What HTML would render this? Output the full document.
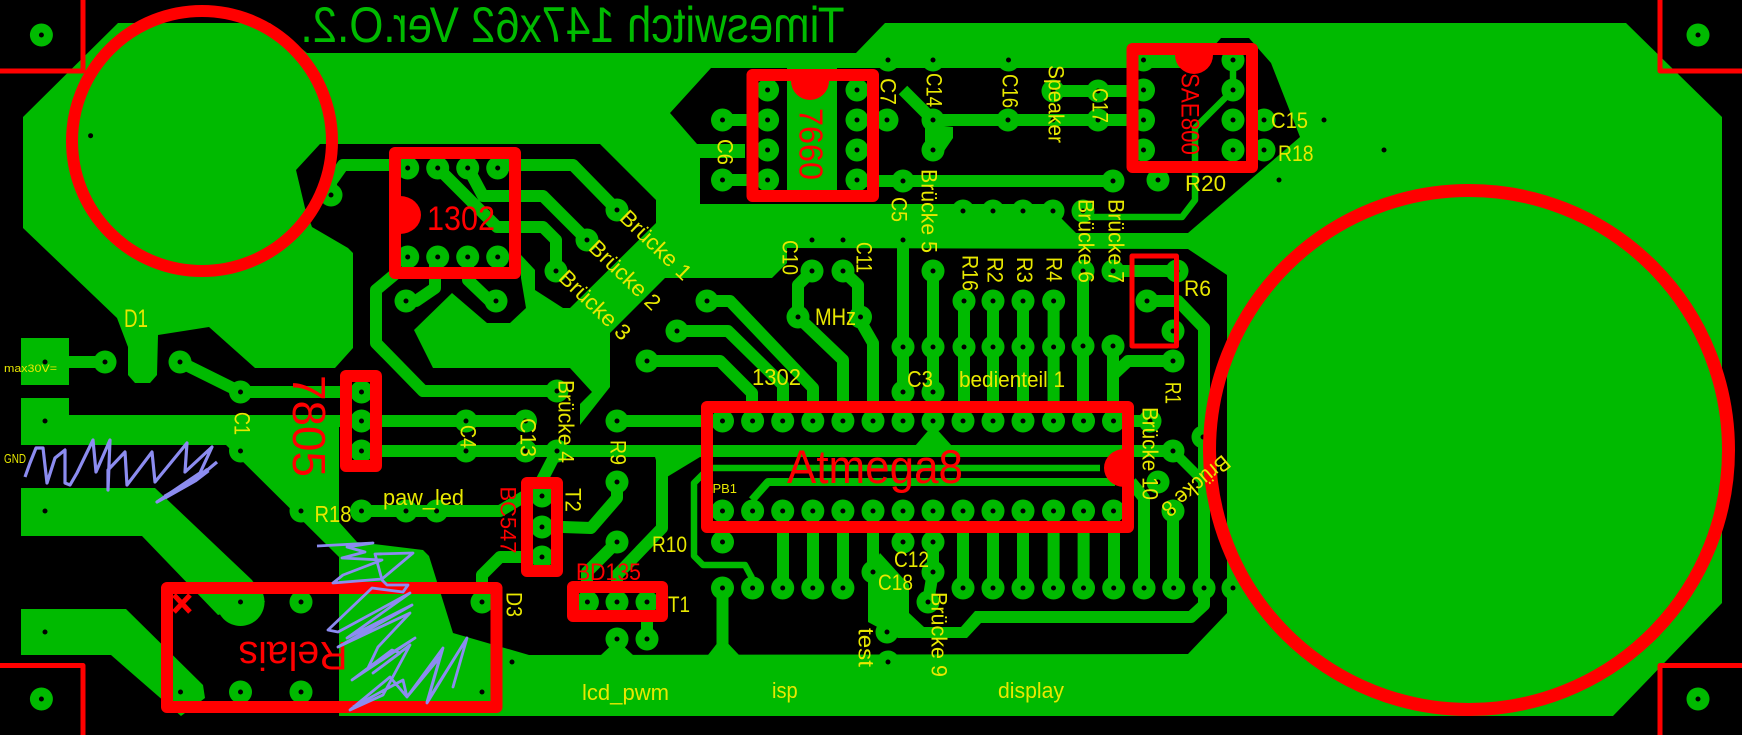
<!DOCTYPE html>
<html><head><meta charset="utf-8"><title>PCB</title>
<style>
html,body{margin:0;padding:0;background:#000;width:1742px;height:735px;overflow:hidden}
svg{display:block}
text{font-family:"Liberation Sans",sans-serif}
.y text{fill:#e8e800}
.r text{fill:#f00}
.c text{text-anchor:middle;dominant-baseline:central}
</style></head><body>
<svg xmlns="http://www.w3.org/2000/svg" width="1742" height="735" viewBox="0 0 1742 735">
<defs>
<path id="p" d="M41.4 35h.01M1698 35h.01M41.4 699h.01M1698 699h.01M105 362h.01M180 362h.01M240.5 392h.01M240.5 451h.01M361.5 392h.01M361.5 421h.01M361.5 451h.01M466 421h.01M466 451h.01M525.5 421h.01M525.5 451h.01M557 391h.01M557 451h.01M301 511h.01M361.5 511h.01M406 511h.01M436.6 511h.01M542 496h.01M542 527h.01M542 557h.01M617 421h.01M617 482h.01M617 542h.01M587.4 602h.01M617 602h.01M647 602h.01M617 639h.01M647 639h.01M722.5 542h.01M722.5 588h.01M301 602h.01M482 602h.01M240.5 692h.01M301 692h.01M407.700 168h.01M437.700 168h.01M467.700 168h.01M497.700 168h.01M407.700 257h.01M437.700 257h.01M467.700 257h.01M497.700 257h.01M331 195h.01M406 301h.01M496 301h.01M617 210h.01M587 240h.01M556 271h.01M767.6 90h.01M767.6 120h.01M767.6 150h.01M767.6 180h.01M857 90h.01M857 120h.01M857 150h.01M857 180h.01M722.5 120h.01M722.5 180h.01M887 120h.01M903 181h.01M1113 181h.01M1158 180h.01M933 120h.01M933 150h.01M1008 120h.01M1053 91h.01M1098 91h.01M1098 120h.01M1143.5 60h.01M1143.5 90h.01M1143.5 120h.01M1143.5 150h.01M1233 60h.01M1233 90h.01M1233 120h.01M1233 150h.01M1264 120h.01M1264 150h.01M888 60h.01M933 60h.01M1008.5 60h.01M963 211h.01M993 211h.01M1023 211h.01M1053 211h.01M1083 211h.01M812 271h.01M843 271h.01M933 271h.01M1083 271h.01M1113 271h.01M798 317h.01M860.5 317h.01M707 301h.01M677 331h.01M647 361h.01M964 301h.01M993 301h.01M1023 301h.01M1053.6 301h.01M903 347h.01M933 347h.01M964 347h.01M993 347h.01M1023 347h.01M1053.6 347h.01M1083 346h.01M1113 346h.01M903 392h.01M933 392h.01M1147 301h.01M1177 271h.01M1173 331h.01M1173 361h.01M1150 421h.01M1203 437h.01M1173 451h.01M1158 482h.01M1173 511h.01M1173.7 588h.01M1204 588h.01M1233 588h.01M873 572h.01M903 542h.01M933 542h.01M933 572h.01M928 602h.01M887 632h.01M888 662h.01M722.5 421h.01M752.6 421h.01M782.7 421h.01M812.8 421h.01M842.9 421h.01M873 421h.01M903 421h.01M933 421h.01M963 421h.01M993 421h.01M1023 421h.01M1053.5 421h.01M1083.5 421h.01M1113.5 421h.01M722.5 511h.01M752.6 511h.01M782.7 511h.01M812.8 511h.01M842.9 511h.01M873 511h.01M903 511h.01M933 511h.01M963 511h.01M993 511h.01M1023 511h.01M1053.5 511h.01M1083.5 511h.01M1113.5 511h.01M752.6 588h.01M782.7 588h.01M812.8 588h.01M842.9 588h.01M963 588h.01M993 588h.01M1023 588h.01M1053.5 588h.01M1083.5 588h.01M1113.7 588h.01M1144 588h.01"/>
</defs>
<rect width="1742" height="735" fill="#000"/>
<g fill="#00ba00">
<polygon points="118,23 270,23 307,53 856,53 885,23 1626,23 1722,117 1722,603 1613,716 339,716 339,557 226,445 21,445 21,398 69,398 69,415 339,415 339,522 357,542 423,550 429,556 453,633 529,655 1188,654 1227,613 1227,275 1188,249 787,248 787,263 772,278 665,278 610,333 610,387 580,425 580,404 592,392 570,368 433,368 414,330 452,293 487,323 510,323 526,308 521,278 521,255 535,270 535,290 563,308 570,308 656,223 656,200 600,144 320,144 296,170 305,208 312,227 348,248 353,253 353,348 335,368 255,368 209,327 158,335 157,375 150,383 135,383 128,375 128,347 117,318 23,228 23,117"/>
<polygon points="21,338 69,338 69,385 21,385"/>
<polygon points="21,488 155,488 252,580 265,602 218,615 142,536 21,536"/>
<polygon points="21,609 126,609 203,685 205,698 181,716 111,655 21,655"/>
<polygon points="868,575 880,553 909,585 909,613 924,627 961,627 975,611 1190,611 1190,623 981,623 967,638 898,638 868,622"/>
</g>
<polygon fill="#000" points="711,68 1195,68 1221,38 1249,38 1271,63 1300,137 1188,233 1076,233 1061,218 1056,204 700,204 700,158 745,158 745,144 697,144 670,113"/>
<rect x="787" y="68" width="50" height="122" fill="#00ba00"/>
<polygon fill="#00ba00" points="935,125 953,127 953,138 940,157 925,143 925,127"/>

<g fill="none" stroke="#00ba00" stroke-width="12" stroke-linejoin="round">
<path d="M105 362H60M180 362L240.5 392H361M240 421H361"/>
<path d="M361 421H525M361 451H722M361 392H361M361 511H436M436 511H500L525 496H542M542 480L557 451"/>
<path d="M542 527H563L591 528L617 498V482M617 421H722M557 451H1173"/>
<path d="M662 452V528L617 575V602M617 542L587 572V602M647 602V639"/>
<path d="M722.5 542V542M722.5 588V650M542 557H500L482 575V602"/>
<path d="M331 195V182L343 165H400M497 165H573L617 210"/>
<path d="M468 168L483 196H543L587 240M438 168L497 227H543L556 240V271"/>
<path d="M406 301H416L435 288V257M468 257V280L490 301H496"/>
<path d="M400 270L376 290V343L423 391H557"/>
<path d="M722 120H768M722 180H768M857 181H1113M1053 91H1143M933 120H1143"/>
<path d="M903 90L933 120V150"/>
<path d="M707 301H730L813 388V421M677 331H728L783 385V421M647 361H720L752 393V421"/>
<path d="M812 271L798 285V317L843 360V421M843 271L858 285V317L873 343V421"/>
<path d="M903 248V347M933 271V347V392M903 347V392"/>
<path d="M964 301V421M993 301V421M1023 301V421M1053.6 301V421M1083 271V421M1113 346V421M1113 271H1177"/>
<path d="M1113 375L1128 361H1173M1114 421H1150"/>
<path d="M1147 301H1178L1204 328V588M1204 588V605L1191 617H1150"/>
<path d="M783 511V588M813 511V588M843 511V588M963 511V588M993 511V588M1023 511V588M1053.6 511V588M1083.6 511V588M1114 511V588"/>
<path d="M873 511V572M933 542V572L928 602"/>
<path d="M1173 511V588"/>
<path d="M1173 451L1204 482" stroke-width="10"/>
<path d="M1131 482L1144 498V588"/>
</g>
<g fill="none" stroke="#00ba00" stroke-linejoin="round">
<path stroke-width="6.5" d="M712 465L694 483V556L703 565H745L752 578M712 468H1100"/>
<path stroke-width="8" d="M752 500L768 482H1115"/>
<path stroke-width="6.5" d="M1084 217H1182L1195 200V128L1233 90M1233 60V90"/>
</g>
<polygon fill="#00ba00" points="915,446 952,446 933,425"/>
<polygon fill="#00ba00" points="655,457 700,457 662,480"/>
<polygon fill="#00ba00" points="601,655 633,655 617,640"/>
<polygon fill="#00ba00" points="708,655 739,655 722,637"/>
<circle cx="240.5" cy="602" r="24" fill="#00ba00"/>

<use href="#p" fill="none" stroke="#00ba00" stroke-width="23" stroke-linecap="round"/>
<use href="#p" fill="none" stroke="#000" stroke-width="5" stroke-linecap="round"/>
<path fill="none" stroke="#000" stroke-width="5" stroke-linecap="round" d="M90.6 135.7h.01M45 362h.01M45 421h.01M45 511h.01M45 632h.01M180.5 692h.01M482 692h.01M512 662h.01M240.5 602h.01M1053 120h.01M1324 120h.01M1384 150h.01M1279 180h.01M812 240h.01M843 240h.01M903 240h.01"/>

<g fill="none" stroke="#f00" stroke-linejoin="round">
<path stroke-width="5" d="M83 0V71H0M1742 71H1660V0M0 665.500H83V735M1742 665.500H1660V735"/>
<circle cx="202" cy="141" r="130" stroke-width="12"/>
<circle cx="1469" cy="450" r="259.500" stroke-width="13"/>
<rect x="395" y="153" width="120" height="120" stroke-width="12"/>
<rect x="752.500" y="75" width="120.500" height="121" stroke-width="12"/>
<rect x="1132.500" y="49" width="119.500" height="118" stroke-width="12"/>
<rect x="707" y="407" width="421" height="120" stroke-width="12"/>
<rect x="346" y="376" width="30" height="90" stroke-width="12"/>
<rect x="527" y="483" width="30" height="88" stroke-width="12"/>
<rect x="573" y="587" width="89" height="29" stroke-width="12"/>
<rect x="167" y="588" width="329.500" height="119" stroke-width="12"/>
<rect x="1132" y="256" width="44.500" height="90" stroke-width="5"/>
<path stroke-width="5" d="M174 595L190 612M190 595L174 612"/>
</g>
<g fill="#f00">
<path d="M400 196A21 19 0 0 1 400 234Z"/>
<path d="M791 81A19 19 0 0 0 829 81Z"/>
<path d="M1175 55A19 19 0 0 0 1213 55Z"/>
<path d="M1124 449A20 19 0 0 0 1124 487Z"/>
</g>

<text transform="translate(1144.500,0) scale(-1,1)" x="300" y="42" font-size="50" fill="#00ba00" textLength="544" lengthAdjust="spacingAndGlyphs">Timeswitch 147x62 Ver.O.2.</text>

<g class="r">
<text x="427" y="230" font-size="34" textLength="68" lengthAdjust="spacingAndGlyphs">1302</text>
<text x="787" y="483" font-size="47" textLength="176" lengthAdjust="spacingAndGlyphs">Atmega8</text>
<text x="576" y="580" font-size="24" textLength="65" lengthAdjust="spacingAndGlyphs">BD135</text>
</g>
<g class="r c">
<text transform="translate(811,144) rotate(90)" font-size="33" textLength="72" lengthAdjust="spacingAndGlyphs">7660</text>
<text transform="translate(1189.500,114) rotate(90)" font-size="25" textLength="82" lengthAdjust="spacingAndGlyphs">SAE800</text>
<text transform="translate(309,426) rotate(90)" font-size="46" textLength="102" lengthAdjust="spacingAndGlyphs">7805</text>
<text transform="translate(508,520) rotate(90)" font-size="22" textLength="67" lengthAdjust="spacingAndGlyphs">BC547</text>
<text transform="translate(293,655) rotate(180)" font-size="40" textLength="109" lengthAdjust="spacingAndGlyphs">Relais</text>
</g>

<g class="y">
<text x="124" y="327" font-size="25" textLength="24" lengthAdjust="spacingAndGlyphs">D1</text>
<text x="4" y="372" font-size="11" textLength="53" lengthAdjust="spacingAndGlyphs">max30V=</text>
<text x="4" y="463" font-size="13" textLength="22" lengthAdjust="spacingAndGlyphs">GND</text>
<text x="314.500" y="522" font-size="23" textLength="37" lengthAdjust="spacingAndGlyphs">R18</text>
<text x="383" y="505" font-size="22" textLength="81" lengthAdjust="spacingAndGlyphs">paw_led</text>
<text x="752" y="385" font-size="23" textLength="49" lengthAdjust="spacingAndGlyphs">1302</text>
<text x="907" y="387" font-size="23" textLength="26" lengthAdjust="spacingAndGlyphs">C3</text>
<text x="959" y="387" font-size="22" textLength="106" lengthAdjust="spacingAndGlyphs">bedienteil 1</text>
<text x="712.500" y="493" font-size="13" textLength="24.500" lengthAdjust="spacingAndGlyphs">PB1</text>
<text x="652" y="552" font-size="22" textLength="35" lengthAdjust="spacingAndGlyphs">R10</text>
<text x="668" y="612" font-size="22" textLength="22" lengthAdjust="spacingAndGlyphs">T1</text>
<text x="894" y="567" font-size="22" textLength="35" lengthAdjust="spacingAndGlyphs">C12</text>
<text x="878" y="590" font-size="22" textLength="35" lengthAdjust="spacingAndGlyphs">C18</text>
<text x="582" y="700" font-size="22" textLength="87" lengthAdjust="spacingAndGlyphs">lcd_pwm</text>
<text x="772" y="698" font-size="22" textLength="25.600" lengthAdjust="spacingAndGlyphs">isp</text>
<text x="998" y="698" font-size="22" textLength="66" lengthAdjust="spacingAndGlyphs">display</text>
<text x="815" y="325" font-size="24" textLength="41" lengthAdjust="spacingAndGlyphs">MHz</text>
<text x="1184" y="296" font-size="22" textLength="27" lengthAdjust="spacingAndGlyphs">R6</text>
<text x="1271" y="128" font-size="22" textLength="37" lengthAdjust="spacingAndGlyphs">C15</text>
<text x="1278" y="161" font-size="22" textLength="35.500" lengthAdjust="spacingAndGlyphs">R18</text>
<text x="1185" y="191" font-size="22" textLength="41" lengthAdjust="spacingAndGlyphs">R20</text>
</g>
<g class="y c" font-size="22">
<text transform="translate(242,423.500) rotate(90)" textLength="23" lengthAdjust="spacingAndGlyphs">C1</text>
<text transform="translate(468,436.500) rotate(90)" textLength="23" lengthAdjust="spacingAndGlyphs">C4</text>
<text transform="translate(528,437.500) rotate(90)" textLength="39" lengthAdjust="spacingAndGlyphs">C13</text>
<text transform="translate(566,421.500) rotate(90)" textLength="83" lengthAdjust="spacingAndGlyphs">Brücke 4</text>
<text transform="translate(573,500) rotate(90)" textLength="24" lengthAdjust="spacingAndGlyphs">T2</text>
<text transform="translate(514,604.500) rotate(90)" textLength="25" lengthAdjust="spacingAndGlyphs">D3</text>
<text transform="translate(618,452.500) rotate(90)" textLength="25" lengthAdjust="spacingAndGlyphs">R9</text>
<text transform="translate(1150,453.500) rotate(90)" textLength="93" lengthAdjust="spacingAndGlyphs">Brücke 10</text>
<text transform="translate(866,647.500) rotate(90)" textLength="39" lengthAdjust="spacingAndGlyphs">test</text>
<text transform="translate(939,634.500) rotate(90)" textLength="85" lengthAdjust="spacingAndGlyphs">Brücke 9</text>
<text transform="translate(725,152) rotate(90)" textLength="26" lengthAdjust="spacingAndGlyphs">C6</text>
<text transform="translate(888,91.500) rotate(90)" textLength="27" lengthAdjust="spacingAndGlyphs">C7</text>
<text transform="translate(934,90) rotate(90)" textLength="34" lengthAdjust="spacingAndGlyphs">C14</text>
<text transform="translate(1010,91) rotate(90)" textLength="34" lengthAdjust="spacingAndGlyphs">C16</text>
<text transform="translate(1056,104) rotate(90)" textLength="78" lengthAdjust="spacingAndGlyphs">Speaker</text>
<text transform="translate(1100,105.500) rotate(90)" textLength="35" lengthAdjust="spacingAndGlyphs">C17</text>
<text transform="translate(929,211) rotate(90)" textLength="84" lengthAdjust="spacingAndGlyphs">Brücke 5</text>
<text transform="translate(899,209.500) rotate(90)" textLength="25" lengthAdjust="spacingAndGlyphs">C5</text>
<text transform="translate(790,257.500) rotate(90)" textLength="35" lengthAdjust="spacingAndGlyphs">C10</text>
<text transform="translate(864,257.500) rotate(90)" textLength="31" lengthAdjust="spacingAndGlyphs">C11</text>
<text transform="translate(970,273) rotate(90)" textLength="36" lengthAdjust="spacingAndGlyphs">R16</text>
<text transform="translate(995,270) rotate(90)" textLength="26" lengthAdjust="spacingAndGlyphs">R2</text>
<text transform="translate(1024.500,270) rotate(90)" textLength="26" lengthAdjust="spacingAndGlyphs">R3</text>
<text transform="translate(1054,269.500) rotate(90)" textLength="25" lengthAdjust="spacingAndGlyphs">R4</text>
<text transform="translate(1086,241) rotate(90)" textLength="84" lengthAdjust="spacingAndGlyphs">Brücke 6</text>
<text transform="translate(1116,241) rotate(90)" textLength="84" lengthAdjust="spacingAndGlyphs">Brücke 7</text>
<text transform="translate(1173,393) rotate(90)" textLength="22" lengthAdjust="spacingAndGlyphs">R1</text>
<text transform="translate(656,245) rotate(44)" textLength="90" lengthAdjust="spacingAndGlyphs">Brücke 1</text>
<text transform="translate(625,275) rotate(44)" textLength="90" lengthAdjust="spacingAndGlyphs">Brücke 2</text>
<text transform="translate(595,305) rotate(44)" textLength="90" lengthAdjust="spacingAndGlyphs">Brücke 3</text>
<text transform="translate(1196,486) rotate(140)" textLength="82" lengthAdjust="spacingAndGlyphs">Brücke 8</text>
</g>

<g fill="none" stroke="#8c8cf0" stroke-width="3.200" stroke-linejoin="round">
<polyline points="25,477 30,463 36,448 43,448 47,483 55,458 65,450 65,483 70,485 77,473 93,440 96,472 110,440 108,490 108,470 125,452 127,485 152,452 155,482 187,443 185,472 212,447 200,473 157,502 193,482 217,462"/>
<polyline stroke-width="5" points="165,497 195,480 208,470"/>
<polyline stroke-width="2.800" points="317,546 373,543 347,547 365,552 342,558 382,560 343,575 333,583 382,579 413,553 375,554 382,580 387,585 408,585 403,592 372,588 328,630 338,632 410,593 347,638 412,605 338,647 410,613 378,647 368,668 415,638 352,680 392,650 400,653 373,673 410,645 383,695 350,710 390,677 407,697 443,648 427,703 467,638 453,687 467,638 427,702 440,657 407,697 403,680 353,707"/>
</g>
</svg>
</body></html>
